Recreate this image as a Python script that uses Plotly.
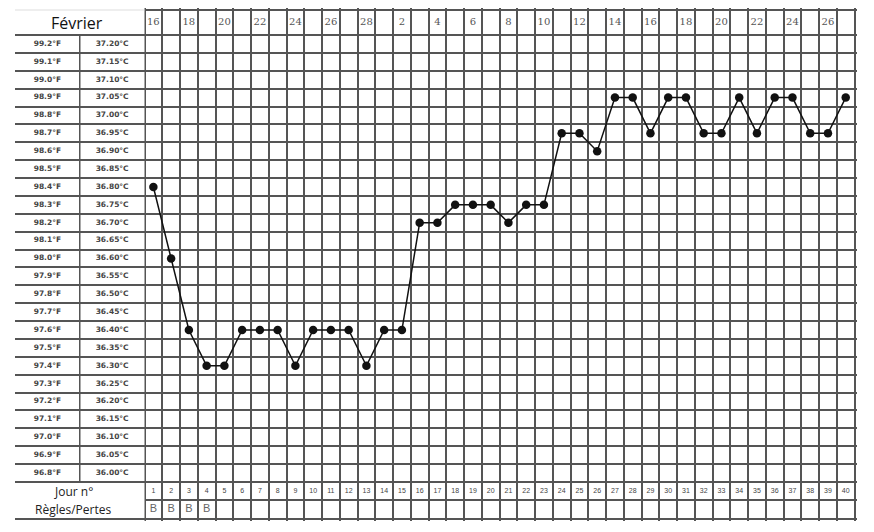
import plotly.graph_objects as go

# ---------------- data ----------------
days = list(range(1, 41))
temps_c = [36.80, 36.60, 36.40, 36.30, 36.30, 36.40, 36.40, 36.40, 36.30, 36.40,
           36.40, 36.40, 36.30, 36.40, 36.40, 36.70, 36.70, 36.75, 36.75, 36.75,
           36.70, 36.75, 36.75, 36.95, 36.95, 36.90, 37.05, 37.05, 36.95, 37.05,
           37.05, 36.95, 36.95, 37.05, 36.95, 37.05, 37.05, 36.95, 36.95, 37.05]

date_days = [1, 3, 5, 7, 9, 11, 13, 15, 17, 19, 21, 23, 25, 27, 29, 31, 33, 35, 37, 39]
date_labels = ["16", "18", "20", "22", "24", "26", "28", "2", "4", "6",
               "8", "10", "12", "14", "16", "18", "20", "22", "24", "26"]

row_celsius = [37.20, 37.15, 37.10, 37.05, 37.00, 36.95, 36.90, 36.85, 36.80, 36.75,
               36.70, 36.65, 36.60, 36.55, 36.50, 36.45, 36.40, 36.35, 36.30, 36.25,
               36.20, 36.15, 36.10, 36.05, 36.00]
fahrenheit_labels = ["99.2°F", "99.1°F", "99.0°F", "98.9°F", "98.8°F", "98.7°F", "98.6°F",
                     "98.5°F", "98.4°F", "98.3°F", "98.2°F", "98.1°F", "98.0°F", "97.9°F",
                     "97.8°F", "97.7°F", "97.6°F", "97.5°F", "97.4°F", "97.3°F", "97.2°F",
                     "97.1°F", "97.0°F", "96.9°F", "96.8°F"]
celsius_labels = ["37.20°C", "37.15°C", "37.10°C", "37.05°C", "37.00°C", "36.95°C",
                  "36.90°C", "36.85°C", "36.80°C", "36.75°C", "36.70°C", "36.65°C",
                  "36.60°C", "36.55°C", "36.50°C", "36.45°C", "36.40°C", "36.35°C",
                  "36.30°C", "36.25°C", "36.20°C", "36.15°C", "36.10°C", "36.05°C",
                  "36.00°C"]

regles_days = [1, 2, 3, 4]
regles_labels = ["B", "B", "B", "B"]

# ---------------- geometry (pixels) ----------------
W, H = 874, 532
L, RP = 15, 857          # plot area left/right px
TP, BP = 8, 521          # plot area top/bottom px
grid_left, grid_right = 144.5, 854.6
header_top, temp_top, temp_bot, jour_bot, bottom = 10, 35, 482, 500, 519

plot_w = RP - L
plot_h = BP - TP
cw = (grid_right - grid_left) / 40.0
row_px = (temp_bot - temp_top) / 25.0
k = 0.05 / row_px                     # celsius per pixel
y_top_edge = 37.225                   # top of the first temp row
y_bot_edge = 35.975                   # bottom of last temp row

def ypx(p):
    return y_top_edge - (p - temp_top) * k

yrange = [ypx(BP), ypx(TP)]
header_y = ypx((header_top + temp_top) / 2)
jour_y = ypx((temp_bot + jour_bot) / 2)
regles_y = ypx((jour_bot + bottom) / 2)

temp_bounds = [y_top_edge - i * 0.05 for i in range(26)]
y_ticks_main = [ypx(header_top)] + temp_bounds + [ypx(jour_bot), ypx(bottom)]
y_ticks_left = temp_bounds + [ypx(bottom)]

x_start_px = grid_left - 2
x_range = [0.5 - 2 / cw, 40.5 + (RP - grid_right) / cw]
x_ticks = [i + 0.5 for i in range(41)]

GRID = "#555555"
GW = 1.5

fig = go.Figure()

# left label table text
fig.add_trace(go.Scatter(
    x=[0.5] * len(fahrenheit_labels), y=row_celsius, text=fahrenheit_labels,
    mode="text", xaxis="x2", yaxis="y2", hoverinfo="skip",
    textfont=dict(family="DejaVu Sans", size=7.5, color="#444", weight="bold")))
fig.add_trace(go.Scatter(
    x=[1.5] * len(celsius_labels), y=row_celsius, text=celsius_labels,
    mode="text", xaxis="x2", yaxis="y2", hoverinfo="skip",
    textfont=dict(family="DejaVu Sans", size=7.5, color="#444", weight="bold")))

# header dates
fig.add_trace(go.Scatter(
    x=date_days, y=[header_y] * len(date_days), text=date_labels, mode="text",
    hoverinfo="skip", cliponaxis=False,
    textfont=dict(family="DejaVu Serif", size=10, color="#555")))

# day numbers
fig.add_trace(go.Scatter(
    x=days, y=[jour_y] * len(days), text=[str(d) for d in days], mode="text",
    hoverinfo="skip",
    textfont=dict(family="Liberation Sans", size=7, color="#444")))

# règles
fig.add_trace(go.Scatter(
    x=regles_days, y=[regles_y] * len(regles_days), text=regles_labels, mode="text",
    hoverinfo="skip",
    textfont=dict(family="Liberation Sans", size=11, color="#666")))

# temperature curve
fig.add_trace(go.Scatter(
    x=days, y=temps_c, mode="lines+markers",
    line=dict(color="#111", width=1.5),
    marker=dict(color="#111", size=8.5),
    hoverinfo="x+y"))

shapes = [
    # vertical divider in left table
    dict(type="line", xref="x2", yref="y2", x0=1, x1=1, y0=y_top_edge, y1=y_bot_edge,
         line=dict(color=GRID, width=GW)),
    # faint top line over Février box
    dict(type="line", xref="x2", yref="y2", x0=0, x1=2, y0=ypx(header_top), y1=ypx(header_top),
         line=dict(color="#dddddd", width=1)),
]

annotations = [
    dict(text="Février", xref="x2", yref="y2", x=0.95, y=header_y, showarrow=False,
         font=dict(family="Open Sans", size=16, color="#111")),
    dict(text="Jour n°", xref="x2", yref="y2", x=0.9, y=jour_y, showarrow=False,
         font=dict(family="Open Sans", size=12, color="#222")),
    dict(text="Règles/Pertes", xref="x2", yref="y2", x=0.9, y=regles_y, showarrow=False,
         font=dict(family="Open Sans", size=12, color="#222")),
]

fig.update_layout(
    width=W, height=H,
    margin=dict(l=L, r=W - RP, t=TP, b=H - BP),
    paper_bgcolor="white", plot_bgcolor="white",
    showlegend=False,
    shapes=shapes, annotations=annotations,
    xaxis=dict(domain=[(x_start_px - L) / plot_w, 1], range=x_range,
               tickvals=x_ticks, showgrid=True, gridcolor=GRID, gridwidth=GW,
               showticklabels=False, ticks="", zeroline=False, showline=False),
    yaxis=dict(range=yrange, tickvals=y_ticks_main, showgrid=True, gridcolor=GRID,
               gridwidth=GW, showticklabels=False, ticks="", zeroline=False,
               showline=False),
    xaxis2=dict(domain=[0, (grid_left - L) / plot_w], range=[0, 2], anchor="y2",
                showgrid=False, showticklabels=False, ticks="", zeroline=False,
                showline=False),
    yaxis2=dict(range=yrange, anchor="x2", tickvals=y_ticks_left, showgrid=True,
                gridcolor=GRID, gridwidth=GW, showticklabels=False, ticks="",
                zeroline=False, showline=False),
)

fig.write_html("out.html", config={"displayModeBar": False},
               post_script="document.body.style.margin='0';document.body.style.overflow='hidden';")
